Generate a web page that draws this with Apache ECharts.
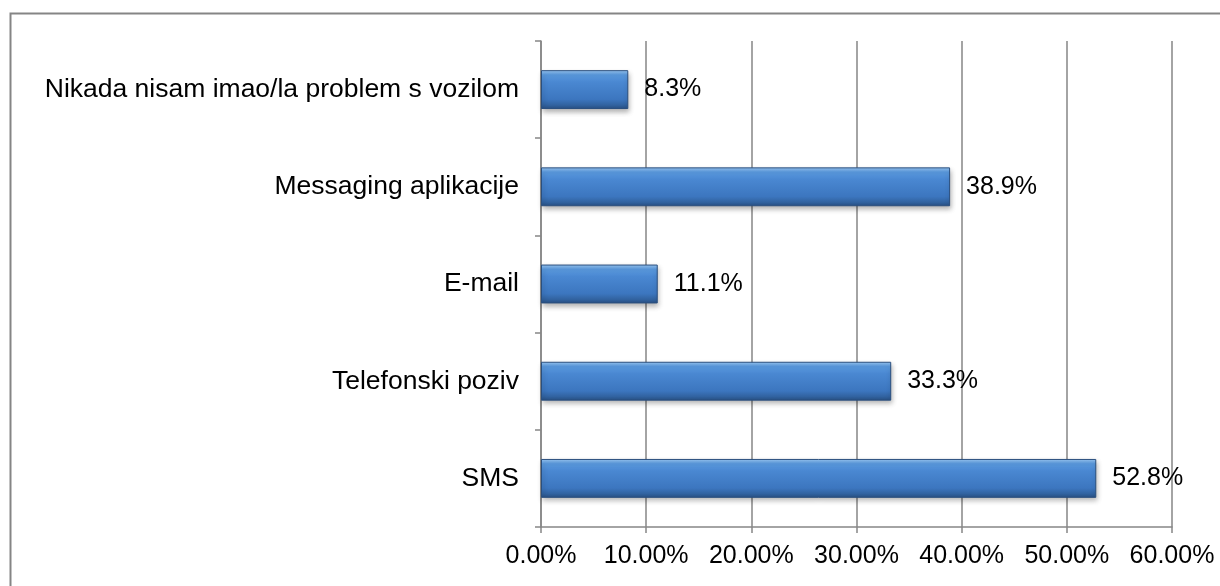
<!DOCTYPE html>
<html><head><meta charset="utf-8">
<script src="https://cdn.jsdelivr.net/npm/echarts@6/dist/echarts.min.js"></script>
<style>html,body{margin:0;padding:0;background:#fff}#c{width:1220px;height:586px}</style>
</head><body><div id="c"></div>
<script>
var categories = ['SMS', 'Telefonski poziv', 'E-mail', 'Messaging aplikacije', 'Nikada nisam imao/la problem s vozilom'];
var values = [52.8, 33.3, 11.1, 38.9, 8.3];
var tickLabels = ['0.00%', '10.00%', '20.00%', '30.00%', '40.00%', '50.00%', '60.00%'];

var chart = echarts.init(document.getElementById('c'), null, {renderer: 'canvas'});
var font = 'Arial, "Liberation Sans", sans-serif';
chart.setOption({
  animation: false,
  backgroundColor: '#fff',
  graphic: [{
    type: 'rect', left: 8, top: 11,
    shape: {width: 1240, height: 620},
    style: {fill: 'none', stroke: '#858585', lineWidth: 2}
  }],
  grid: {left: 541, right: 48, top: 41, bottom: 59, containLabel: false},
  xAxis: {
    type: 'value', min: 0, max: 60, interval: 10,
    axisLine: {show: true, lineStyle: {color: '#868686', width: 1.5}},
    axisTick: {show: true, length: 6, lineStyle: {color: '#868686', width: 1.5}},
    splitLine: {show: true, lineStyle: {color: '#868686', width: 1.5}},
    axisLabel: {
      margin: 17, color: '#000', fontSize: 25, fontFamily: font,
      formatter: function (v) { return tickLabels[Math.round(v / 10)]; }
    }
  },
  yAxis: {
    type: 'category', data: categories,
    axisLine: {show: true, lineStyle: {color: '#868686', width: 1.5}},
    axisTick: {show: true, length: 6, inside: false, alignWithLabel: false, lineStyle: {color: '#868686', width: 1.5}},
    axisLabel: {margin: 22, color: '#000', fontSize: 26.5, fontFamily: font}
  },
  series: [{
    type: 'bar', data: values, barWidth: '40%',
    itemStyle: {
      color: {type: 'linear', x: 0, y: 0, x2: 0, y2: 1, colorStops: [
        {offset: 0, color: '#9ccaf6'},
        {offset: 0.12, color: '#5b9be0'},
        {offset: 0.3, color: '#4a88d2'},
        {offset: 0.75, color: '#3c76bf'},
        {offset: 0.9, color: '#31629f'},
        {offset: 1, color: '#284f82'}
      ]},
      borderColor: '#2a4f7e', borderWidth: 1,
      shadowColor: 'rgba(0,0,0,0.3)', shadowBlur: 5, shadowOffsetX: 1, shadowOffsetY: 3
    },
    label: {
      show: true, position: 'right', distance: 16, color: '#000',
      fontSize: 25, fontFamily: font,
      formatter: function (p) { return p.value.toFixed(1) + '%'; }
    }
  }]
});
</script></body></html>
